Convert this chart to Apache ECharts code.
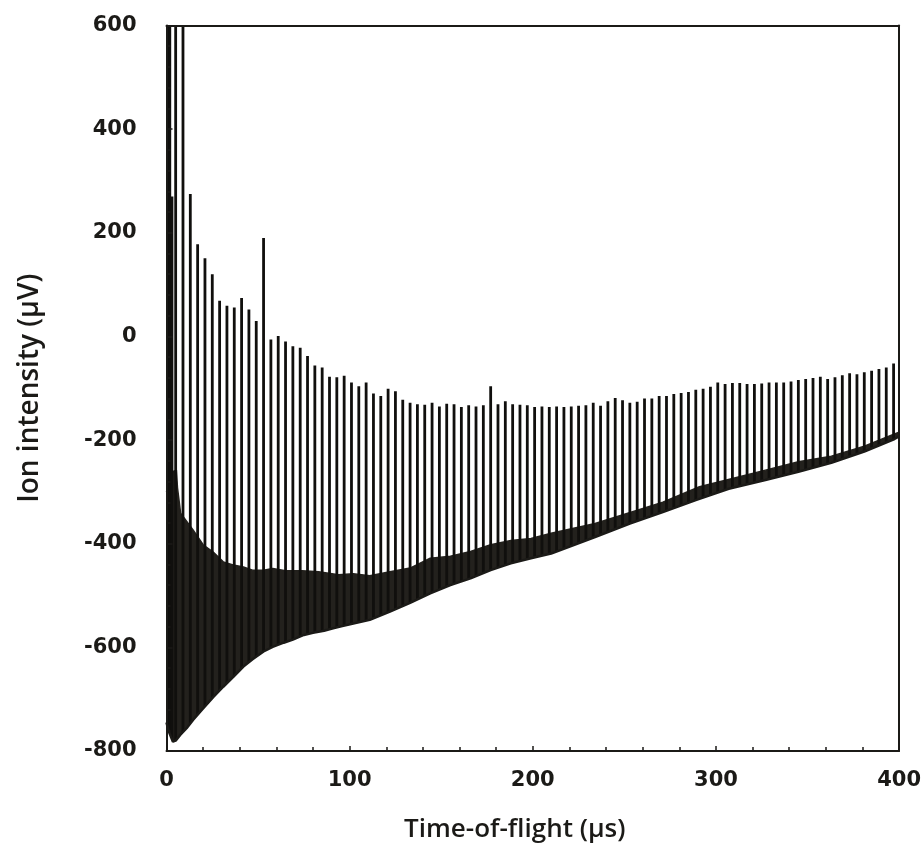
<!DOCTYPE html>
<html>
<head>
<meta charset="utf-8">
<script src="https://cdn.jsdelivr.net/npm/echarts@6/dist/echarts.min.js"></script>
<style>
html,body{margin:0;padding:0;background:#fff;}
#chart{width:924px;height:856px;}
</style>
</head>
<body>
<div id="chart"></div>
<script>
// Spike (peak) times in µs and their top values in µV
const peakT = [0.5, 1.2, 1.8, 3, 5, 9, 13, 17, 21, 25, 29, 33, 37, 41, 45, 49, 53, 57, 61, 65,
  69, 73, 77, 81, 85, 89, 93, 97, 101, 105, 109, 113, 117, 121, 125, 129, 133, 137, 141, 145,
  149, 153, 157, 161, 165, 169, 173, 177, 181, 185, 189, 193, 197, 201, 205, 209, 213, 217, 221, 225,
  229, 233, 237, 241, 245, 249, 253, 257, 261, 265, 269, 273, 277, 281, 285, 289, 293, 297, 301, 305,
  309, 313, 317, 321, 325, 329, 333, 337, 341, 345, 349, 353, 357, 361, 365, 369, 373, 377, 381, 385,
  389, 393, 397];
const peakV = [800, 800, 800, 270, 750, 750, 275, 178, 151, 120, 69, 59, 56, 74, 52, 30, 190, -6, 1, -10,
  -19, -22, -38, -56, -60, -78, -79, -76, -89, -96, -89, -110, -115, -101, -106, -122, -128, -131, -132, -128,
  -135, -130, -131, -136, -133, -135, -133, -96, -131, -125, -131, -132, -133, -136, -135, -136, -135, -136, -135, -134,
  -133, -128, -134, -125, -119, -123, -128, -126, -120, -120, -115, -115, -111, -109, -107, -103, -101, -97, -89, -92,
  -90, -90, -92, -92, -91, -89, -89, -89, -87, -84, -82, -80, -78, -82, -79, -75, -71, -73, -69, -66,
  -63, -60, -52];

// Lower envelope (signal baseline)
const baseT = [0, 1, 3.5, 5, 7.5, 11, 14.5, 20, 25.5, 31, 36.5, 42, 47, 53, 58, 64, 69, 75, 80, 86,
  91, 96, 102, 111, 122, 133, 144, 155, 166, 177, 188, 199, 210, 234, 253, 271, 289, 307, 327, 345,
  363, 381, 397.5, 400];
const baseV = [-745, -760, -782, -780, -769, -756, -740, -718, -696, -676, -657, -637, -623, -608, -599, -591, -585, -576, -572, -568,
  -563, -559, -554, -547, -531, -514, -496, -480, -467, -451, -438, -428, -419, -387, -361, -339, -316, -294, -277, -261,
  -244, -222, -198, -193];

// Upper edge of the dense ringing band
const noiseT = [0, 2.5, 5.4, 6, 7.7, 14.6, 20, 25.5, 31, 36.4, 42, 47, 53, 58, 65, 74, 83, 94, 102, 111,
  122, 133, 144, 155, 166, 177, 188, 199, 210, 234, 271, 291, 309, 327, 345, 363, 381, 397.5, 400];
const noiseV = [-300, -262, -258, -292, -341, -374, -402, -416, -435, -441, -445, -451, -451, -448, -452, -452, -454, -460, -458, -462,
  -454, -447, -428, -424, -415, -402, -394, -390, -380, -361, -320, -290, -274, -258, -242, -231, -212, -188, -185];

const xTicks = {min: 0, max: 400, interval: 100};
const yTicks = {min: -800, max: 600, interval: 200};

const INK = '#1b1a17';
const labelFont = {fontFamily: 'DejaVu Sans', fontWeight: 'bold', fontSize: 21, color: INK};
const nameFont = {fontFamily: 'Open Sans', fontWeight: 600, color: INK};

const zip = (a, b) => a.map((v, i) => [v, b[i]]);

const chart = echarts.init(document.getElementById('chart'), null, {renderer: 'canvas'});
chart.setOption({
  backgroundColor: '#ffffff',
  animation: false,
  grid: {left: 166.5, right: 23.5, top: 25.5, bottom: 105, show: false},
  xAxis: [{
    type: 'value', min: xTicks.min, max: xTicks.max, interval: xTicks.interval, z: 10,
    name: 'Time-of-flight (µs)', nameLocation: 'middle', nameGap: 66,
    nameTextStyle: Object.assign({fontSize: 26, padding: [0, 36, 0, 0]}, nameFont),
    axisLine: {show: true, onZero: false, lineStyle: {color: INK, width: 2}},
    axisTick: {show: true, inside: true, length: 5, lineStyle: {color: INK, width: 1.5}},
    minorTick: {show: true, splitNumber: 5, length: 4, lineStyle: {color: INK, width: 1.5}},
    axisLabel: Object.assign({margin: 19}, labelFont),
    splitLine: {show: false}
  }, {
    type: 'value', position: 'top', min: xTicks.min, max: xTicks.max, z: 10,
    axisLine: {show: true, onZero: false, lineStyle: {color: INK, width: 2}},
    axisTick: {show: false}, axisLabel: {show: false}, splitLine: {show: false}
  }],
  yAxis: [{
    type: 'value', min: yTicks.min, max: yTicks.max, interval: yTicks.interval, z: 10,
    name: 'Ion intensity (µV)', nameLocation: 'middle', nameGap: 122,
    nameTextStyle: Object.assign({fontSize: 28}, nameFont),
    axisLine: {show: true, onZero: false, lineStyle: {color: INK, width: 2}},
    axisTick: {show: true, inside: true, length: 6, lineStyle: {color: INK, width: 1.5}},
    minorTick: {show: true, splitNumber: 5, length: 4, lineStyle: {color: INK, width: 1.5}},
    axisLabel: Object.assign({margin: 30}, labelFont),
    splitLine: {show: false}
  }, {
    type: 'value', position: 'right', min: yTicks.min, max: yTicks.max, z: 10,
    axisLine: {show: true, onZero: false, lineStyle: {color: INK, width: 2}},
    axisTick: {show: false}, axisLabel: {show: false}, splitLine: {show: false}
  }],
  series: [
    {
      name: 'ringing', type: 'line', z: 2, symbol: 'none', silent: true,
      data: zip(noiseT, noiseV),
      lineStyle: {color: '#23211d', width: 1.5},
      areaStyle: {color: '#23211d', opacity: 1, origin: 'start'}
    },
    {
      name: 'spikes', type: 'custom', z: 3, clip: true,
      data: zip(peakT, peakV),
      renderItem: function (params, api) {
        const t = api.value(0);
        const p1 = api.coord([t, yTicks.min]);
        const p2 = api.coord([t, api.value(1)]);
        const top = params.coordSys.y;
        return {
          type: 'line',
          shape: {x1: p1[0], y1: p1[1], x2: p2[0], y2: Math.max(p2[1], top)},
          style: {stroke: '#100f0d', lineWidth: 2.8}
        };
      }
    },
    {
      name: 'baseline', type: 'line', z: 4, symbol: 'none', silent: true,
      data: zip(baseT, baseV),
      lineStyle: {color: INK, width: 2.5},
      areaStyle: {color: '#ffffff', opacity: 1, origin: 'start'}
    }
  ]
});
</script>
</body>
</html>
